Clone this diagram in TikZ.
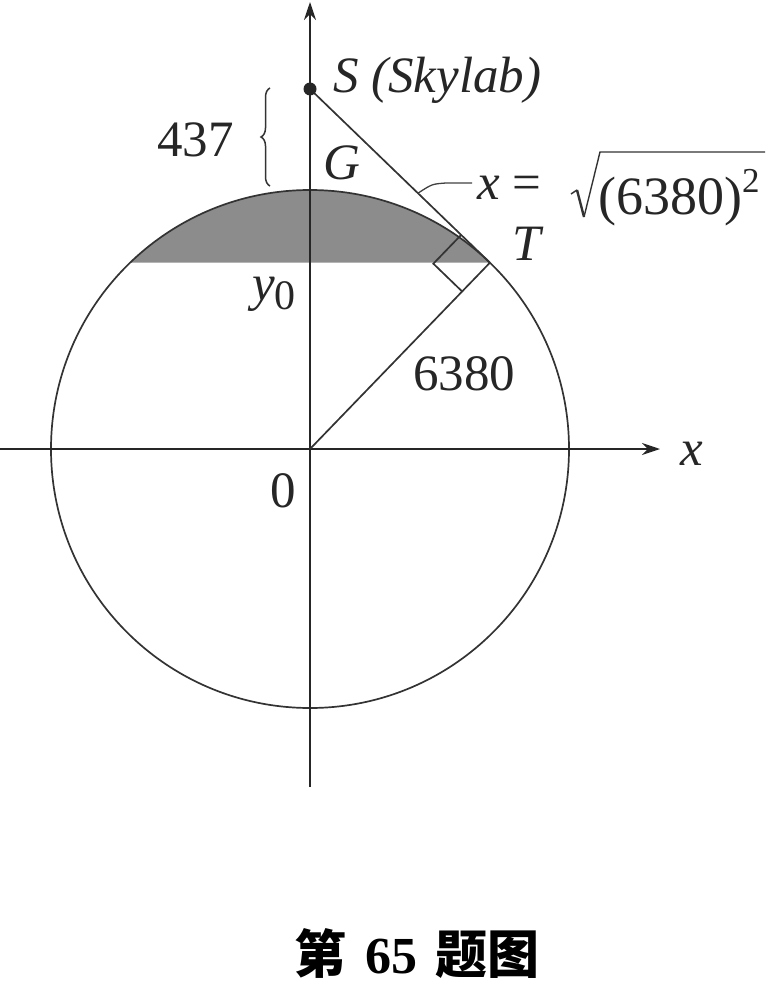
\documentclass[tikz,border=0pt]{standalone}
\usepackage{fontspec}
\setmainfont{Liberation Serif}
\newfontfamily\cjk{Noto Sans CJK SC}
\usetikzlibrary{arrows.meta,calc,decorations.pathreplacing}
\tikzset{
  lab/.style={font=\fontsize{51}{60}\selectfont, inner sep=0pt, text=black!85},
  axis/.style={line width=2.2pt, draw=black!85, -{Stealth[length=18pt,width=12pt]}},
  thin line/.style={line width=1.7pt, draw=black!80},
}
\begin{document}
\begin{tikzpicture}[x=1pt,y=-1pt]
\useasboundingbox (0,0) rectangle (765,987);
\clip (0,0) rectangle (765,987);
\coordinate (O) at (310,449);
\coordinate (T) at ($(O)+(-46:259)$);
\coordinate (S) at (310,89);
\coordinate (G) at (310,190);
\coordinate (xl) at (0,449);
\coordinate (xr) at (660,449);
\coordinate (yb) at (310,787);
\coordinate (yt) at (310,2);
% shaded cap
\fill[black!45] (T) arc[start angle=-46, end angle=-134, radius=259] -- cycle;
% circle
\draw[thin line] (O) circle[radius=259];
% axes
\draw[axis] (xl) -- (xr);
\draw[axis] (yb) -- (yt);
% tangent and radius
\draw[thin line] (S) -- (T);
\draw[thin line] (O) -- (T);
% right angle mark
\coordinate (ra) at ($(T)!40pt!(O)$);
\coordinate (rb) at ($(T)!40pt!(S)$);
\draw[thin line] (ra) -- ($(ra)+(rb)-(T)$) -- (rb);
% Skylab point
\fill[black!85] (S) circle[radius=6.5];
% brace
\coordinate (b1) at (270,186);
\coordinate (b2) at (270,88);
\draw[line width=1.5pt, black!80, decorate, decoration={brace, amplitude=9pt}] (b1) -- (b2);
% leader line
\coordinate (lead) at ($(S)!0.6!(T)$);
\coordinate (leadend) at (472,183);
\draw[line width=1.3pt, black!75] (lead) .. controls (432,184) .. (446,183) -- (leadend);
% radical
\coordinate (r0) at (571,194);
\coordinate (r1) at (577,190);
\coordinate (r2) at (584,217);
\coordinate (r3) at (600,152);
\coordinate (r4) at (780,152);
\draw[line width=1.4pt, black!80] (r0) -- (r1);
\draw[line width=2.4pt, black!80] (r1) -- (r2);
\draw[line width=1.4pt, black!80] (r2) -- (r3) -- (r4);
% labels
\node[lab, anchor=base west] (slab) at (333,93) {\textit{S (Skylab)}};
\node[lab, anchor=base east] (n437) at (234,157) {437};
\node[lab, anchor=base west] (glab) at (323,180) {\textit{G}};
\node[lab, anchor=base west] (tlab) at (512,260) {\textit{T}};
\node[lab, anchor=base west] (xeq) at (477,200) {\textit{x} =};
\node[lab, anchor=base west, font=\fontsize{54}{60}\selectfont] (rad) at (598,214) {(6380)\raisebox{21pt}{\fontsize{35}{38}\selectfont 2}};
\node[lab, anchor=base west] (y0) at (252,300) {\textit{y}\raisebox{-9pt}{\fontsize{42}{44}\selectfont 0}};
\node[lab, anchor=base west] (r6380) at (413,390) {6380};
\node[lab, anchor=base east] (zero) at (296,507) {0};
\node[lab, anchor=base west] (xlab) at (680,465) {\textit{x}};
\node[inner sep=0pt, font=\fontsize{52}{60}\selectfont] (cap) at (417,953) {{\cjk\bfseries 第}\hspace{0.35em}\textbf{65}\hspace{0.35em}{\cjk\bfseries 题图}};
\end{tikzpicture}
\end{document}
